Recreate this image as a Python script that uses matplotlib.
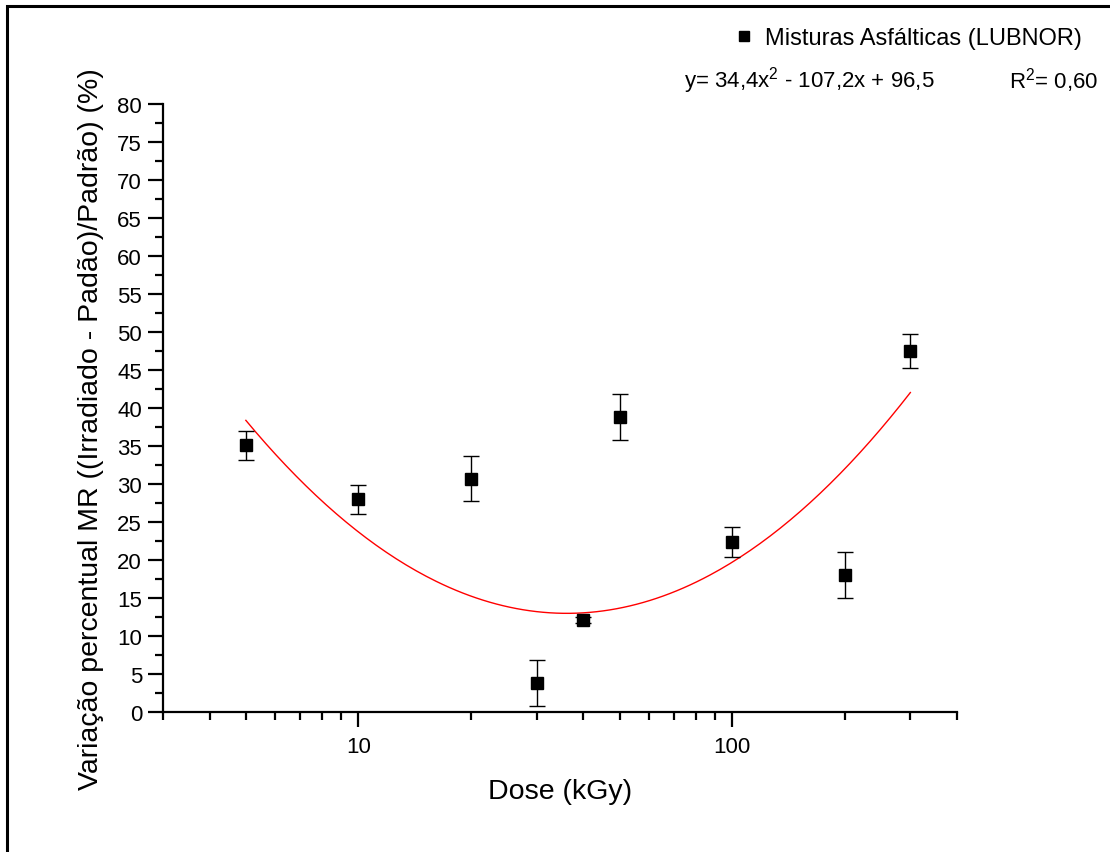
import numpy as np
import matplotlib
matplotlib.use('Agg')
import matplotlib.pyplot as plt
from matplotlib.ticker import FixedLocator, NullFormatter, MultipleLocator
from matplotlib.patches import Rectangle

plt.rcParams['font.family'] = ['Liberation Sans', 'DejaVu Sans']
plt.rcParams['mathtext.fontset'] = 'custom'
plt.rcParams['mathtext.rm'] = 'Liberation Sans'

dose = [5, 10, 20, 30, 40, 50, 100, 200, 300]
variacao = [35.1, 28.0, 30.7, 3.8, 12.1, 38.8, 22.4, 18.0, 47.5]
erro = [1.9, 1.9, 3.0, 3.0, 0.4, 3.0, 2.0, 3.0, 2.3]

# ajuste polinomial em log10(dose): y = a x^2 + b x + c
coef_a = 34.4
coef_b = -107.2
coef_c = 96.5
r2 = 0.60


def virgula(v, nd=1):
    return ('%.*f' % (nd, v)).replace('.', ',')


fig = plt.figure(figsize=(11.1, 8.53), dpi=100)
ax = fig.add_axes([0.1468, 0.1641, 0.7154, 0.7128])

ax.errorbar(dose, variacao, yerr=erro, fmt='none', ecolor='black',
            elinewidth=1.0, capsize=6, capthick=1.0, zorder=3)
ax.plot(dose, variacao, 's', color='black', markersize=9, zorder=4,
        label='Misturas Asfálticas (LUBNOR)')

xf = np.logspace(np.log10(dose[0]), np.log10(dose[-1]), 200)
lx = np.log10(xf)
ax.plot(xf, coef_a * lx**2 + coef_b * lx + coef_c, color='red', lw=1.0, zorder=2)

ax.set_xscale('log')
ax.set_xlim(3, 400)
ax.set_ylim(0, 80)
ax.xaxis.set_major_locator(FixedLocator([10, 100]))
ax.set_xticklabels(['10', '100'])
ax.xaxis.set_minor_locator(FixedLocator([3, 4, 5, 6, 7, 8, 9, 20, 30, 40, 50, 60, 70, 80, 90, 200, 300, 400]))
ax.xaxis.set_minor_formatter(NullFormatter())
ax.yaxis.set_major_locator(MultipleLocator(5))
ax.yaxis.set_minor_locator(MultipleLocator(2.5))

for s in ['top', 'right']:
    ax.spines[s].set_visible(False)
for s in ['left', 'bottom']:
    ax.spines[s].set_linewidth(1.6)
ax.tick_params(which='major', direction='out', length=11, width=1.6, labelsize=16, pad=4)
ax.tick_params(axis='x', which='major', pad=6)
ax.tick_params(which='minor', direction='out', length=6, width=1.6)

ax.set_xlabel('Dose (kGy)', fontsize=20.5)
ax.xaxis.set_label_coords(0.5, -0.108)
ax.set_ylabel('Variação percentual MR ((Irradiado - Padão)/Padrão) (%)', fontsize=20.5)
ax.yaxis.set_label_coords(-0.074, 0.467)

fig.legend(loc='upper right', bbox_to_anchor=(0.994, 0.992), frameon=False,
           fontsize=17, handletextpad=0.4, handlelength=1.0, markerscale=0.8)

eq = 'y= ' + virgula(coef_a) + 'x$^2$ - ' + virgula(-coef_b) + 'x + ' + virgula(coef_c)
fig.text(0.616, 0.906, eq, fontsize=16, ha='left', va='center')
fig.text(0.989, 0.906, 'R$^2$= ' + virgula(r2, 2), fontsize=16, ha='right', va='center')

fig.patches.append(Rectangle((7 / 1110, -0.1), 1.2, 1 - 7 / 853 + 0.1, transform=fig.transFigure,
                             fill=False, edgecolor='black', lw=2.2))

fig.savefig('out.png', dpi=100)
